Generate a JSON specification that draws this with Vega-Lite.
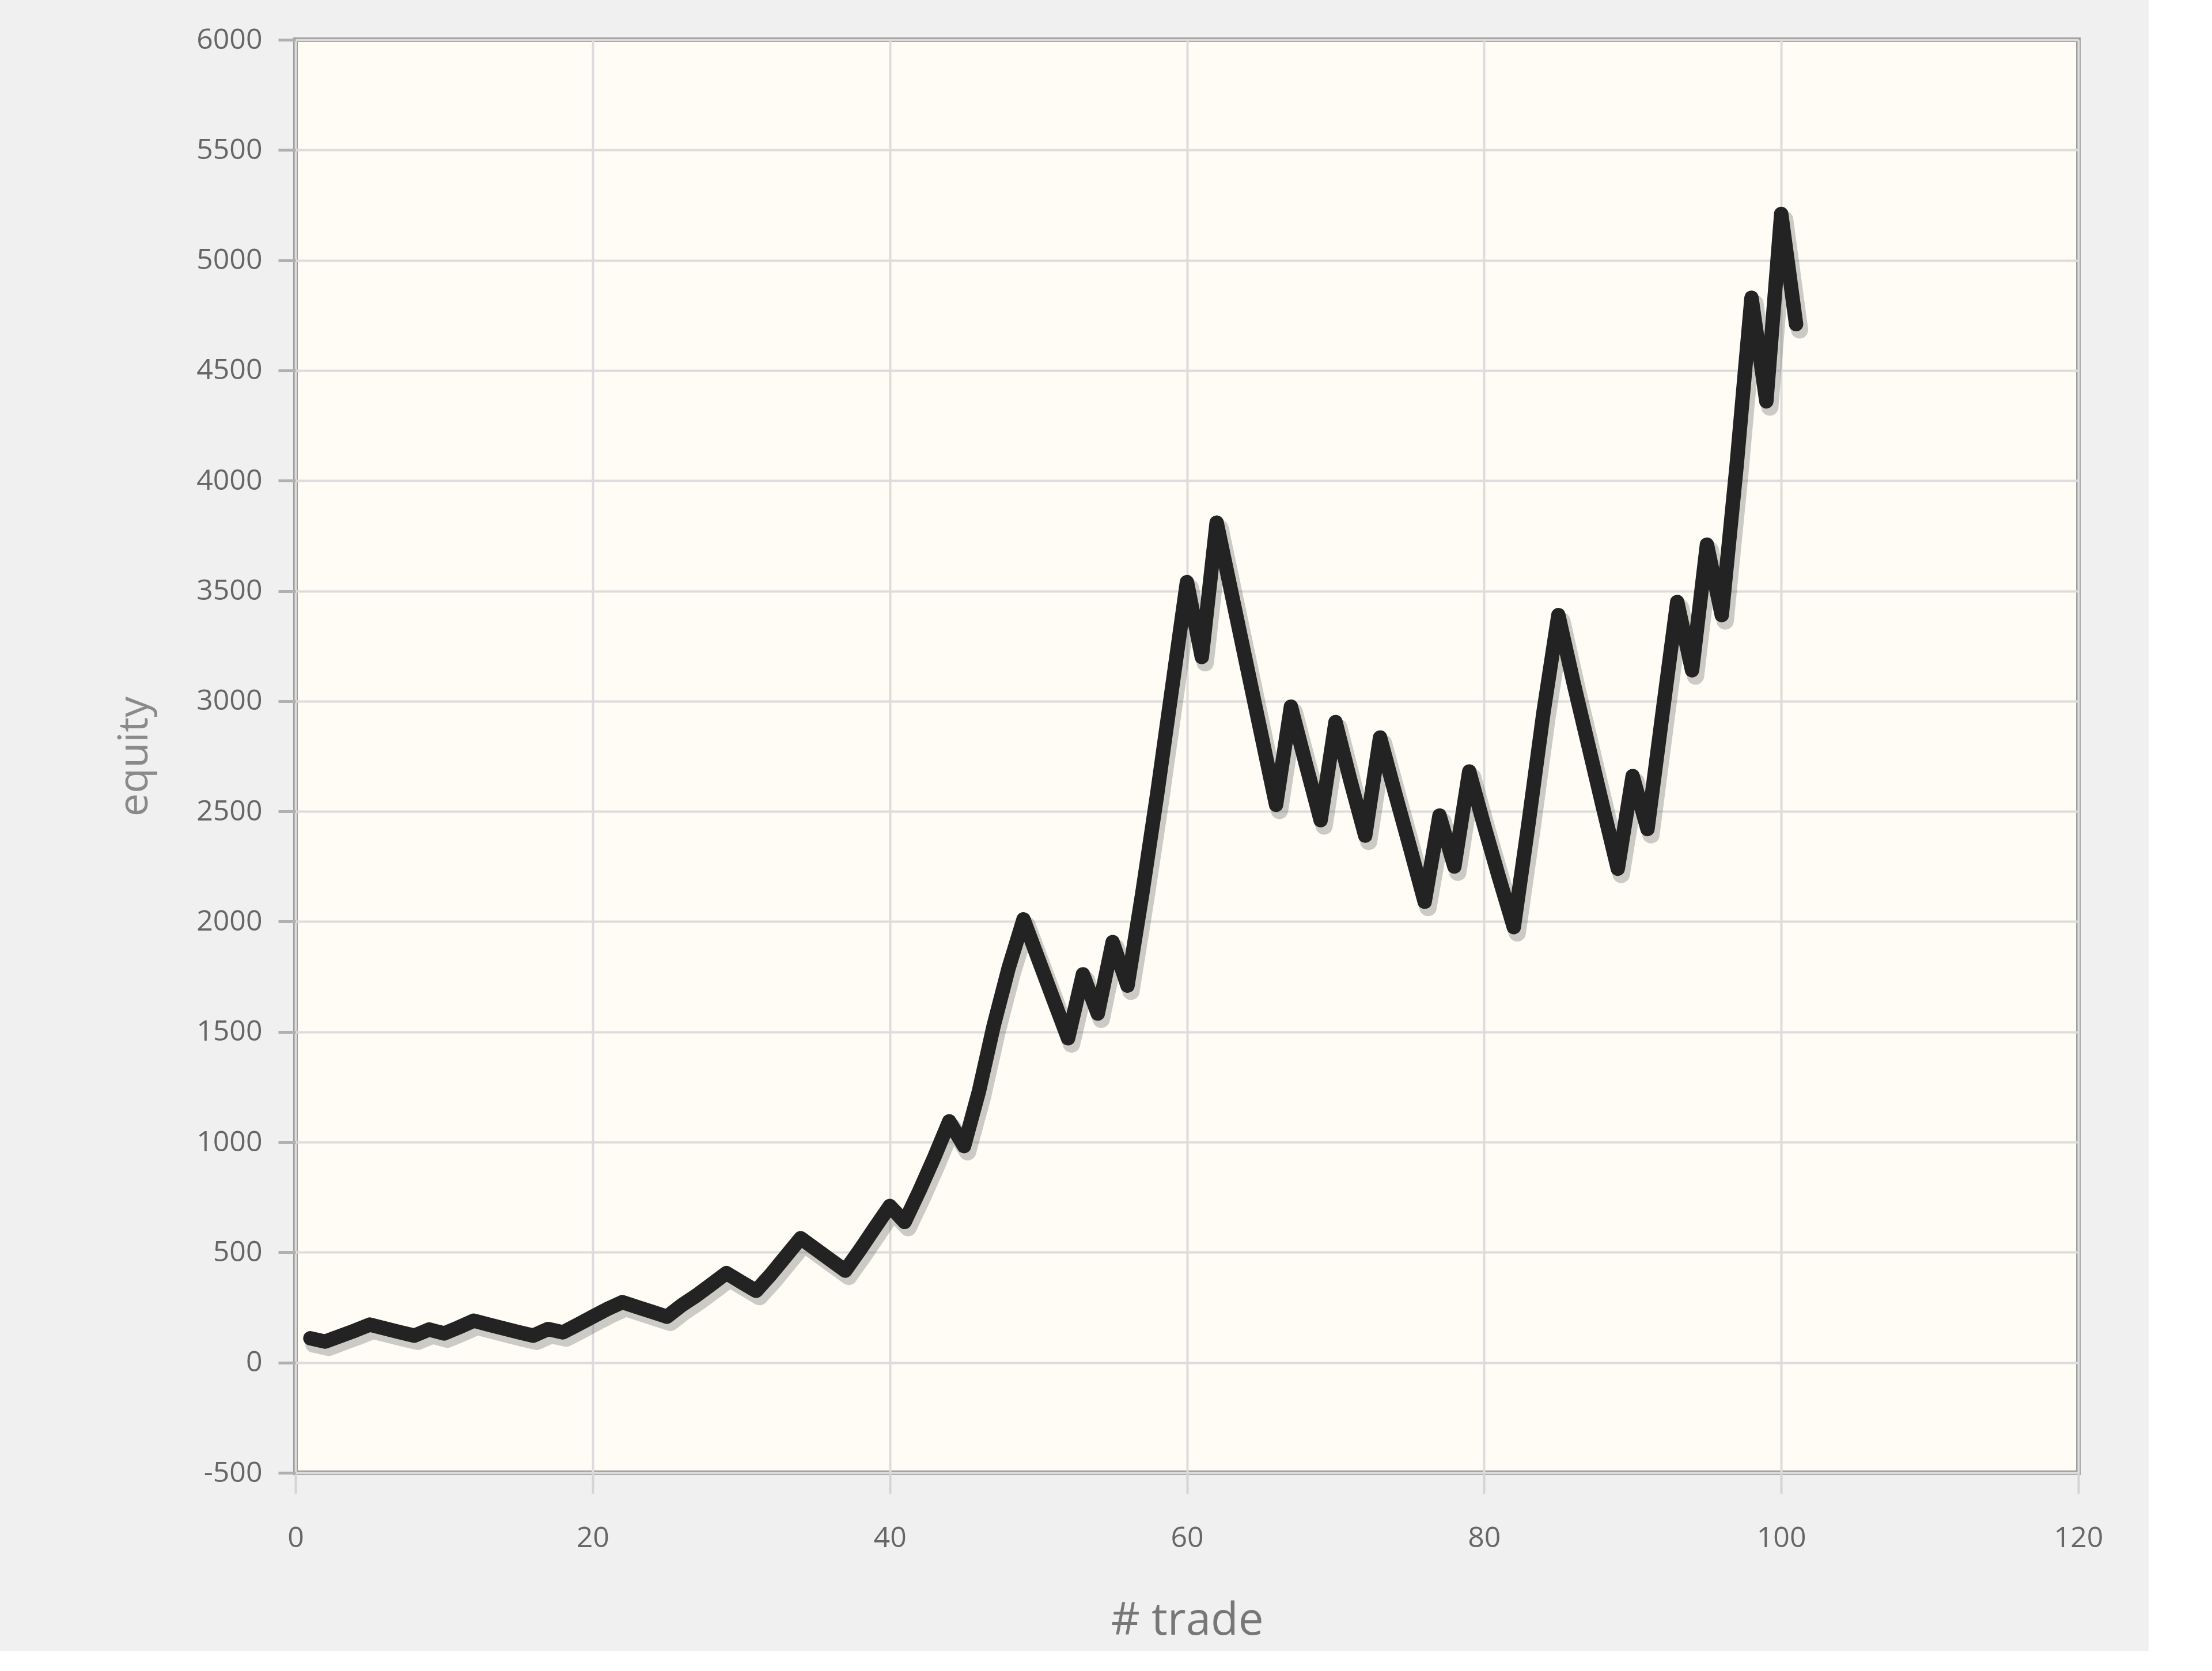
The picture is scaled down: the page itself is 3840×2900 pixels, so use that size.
{
  "$schema": "https://vega.github.io/schema/vega-lite/v6.json",
  "width": 3095,
  "height": 2487,
  "autosize": {"type": "none"},
  "padding": {"left": 513, "top": 69, "right": 122, "bottom": 309},
  "background": "#f0f0f0",
  "config": {
    "font": "Open Sans",
    "view": {"fill": "#fefcf5", "stroke": "#9c9c9c", "strokeWidth": 8}
  },
  "data": {
    "values": [
      {"trade": 1, "equity": 110}, {"trade": 2, "equity": 95}, {"trade": 3, "equity": 120},
      {"trade": 4, "equity": 145}, {"trade": 5, "equity": 172}, {"trade": 6, "equity": 155},
      {"trade": 7, "equity": 138}, {"trade": 8, "equity": 122}, {"trade": 9, "equity": 150},
      {"trade": 10, "equity": 132}, {"trade": 11, "equity": 160}, {"trade": 12, "equity": 190},
      {"trade": 13, "equity": 172}, {"trade": 14, "equity": 155}, {"trade": 15, "equity": 138},
      {"trade": 16, "equity": 122}, {"trade": 17, "equity": 152}, {"trade": 18, "equity": 137},
      {"trade": 19, "equity": 172}, {"trade": 20, "equity": 208}, {"trade": 21, "equity": 243},
      {"trade": 22, "equity": 274}, {"trade": 23, "equity": 252}, {"trade": 24, "equity": 230},
      {"trade": 25, "equity": 208}, {"trade": 26, "equity": 260}, {"trade": 27, "equity": 305},
      {"trade": 28, "equity": 355}, {"trade": 29, "equity": 406}, {"trade": 30, "equity": 365},
      {"trade": 31, "equity": 325}, {"trade": 32, "equity": 400}, {"trade": 33, "equity": 482},
      {"trade": 34, "equity": 564}, {"trade": 35, "equity": 515}, {"trade": 36, "equity": 466},
      {"trade": 37, "equity": 417}, {"trade": 38, "equity": 512}, {"trade": 39, "equity": 612},
      {"trade": 40, "equity": 710}, {"trade": 41, "equity": 638}, {"trade": 42, "equity": 780},
      {"trade": 43, "equity": 932}, {"trade": 44, "equity": 1094}, {"trade": 45, "equity": 982},
      {"trade": 46, "equity": 1230}, {"trade": 47, "equity": 1530}, {"trade": 48, "equity": 1790},
      {"trade": 49, "equity": 2010}, {"trade": 50, "equity": 1830}, {"trade": 51, "equity": 1650},
      {"trade": 52, "equity": 1471}, {"trade": 53, "equity": 1761}, {"trade": 54, "equity": 1583},
      {"trade": 55, "equity": 1907}, {"trade": 56, "equity": 1710}, {"trade": 57, "equity": 2130},
      {"trade": 58, "equity": 2580}, {"trade": 59, "equity": 3060}, {"trade": 60, "equity": 3540},
      {"trade": 61, "equity": 3200}, {"trade": 62, "equity": 3810}, {"trade": 63, "equity": 3490},
      {"trade": 64, "equity": 3170}, {"trade": 65, "equity": 2850}, {"trade": 66, "equity": 2530},
      {"trade": 67, "equity": 2975}, {"trade": 68, "equity": 2715}, {"trade": 69, "equity": 2460},
      {"trade": 70, "equity": 2905}, {"trade": 71, "equity": 2640}, {"trade": 72, "equity": 2390},
      {"trade": 73, "equity": 2835}, {"trade": 74, "equity": 2585}, {"trade": 75, "equity": 2340},
      {"trade": 76, "equity": 2090}, {"trade": 77, "equity": 2481}, {"trade": 78, "equity": 2250},
      {"trade": 79, "equity": 2681}, {"trade": 80, "equity": 2436}, {"trade": 81, "equity": 2201},
      {"trade": 82, "equity": 1975}, {"trade": 83, "equity": 2450}, {"trade": 84, "equity": 2950},
      {"trade": 85, "equity": 3390}, {"trade": 86, "equity": 3090}, {"trade": 87, "equity": 2805},
      {"trade": 88, "equity": 2520}, {"trade": 89, "equity": 2240}, {"trade": 90, "equity": 2660},
      {"trade": 91, "equity": 2420}, {"trade": 92, "equity": 2940}, {"trade": 93, "equity": 3450},
      {"trade": 94, "equity": 3140}, {"trade": 95, "equity": 3710}, {"trade": 96, "equity": 3390},
      {"trade": 97, "equity": 4070}, {"trade": 98, "equity": 4830}, {"trade": 99, "equity": 4360},
      {"trade": 100, "equity": 5210}, {"trade": 101, "equity": 4710}
    ]
  },
  "encoding": {
    "x": {
      "field": "trade",
      "type": "quantitative",
      "scale": {"domain": [0, 120], "nice": false, "zero": false},
      "axis": {
        "title": "# trade",
        "values": [0, 20, 40, 60, 80, 100, 120],
        "labelExpr": "'' + datum.value",
        "domain": false,
        "grid": true,
        "gridColor": "#dcdcdc",
        "gridWidth": 4,
        "ticks": true,
        "tickSize": 36,
        "tickColor": "#d4d4d4",
        "tickWidth": 4,
        "labelFontSize": 50,
        "labelColor": "#666666",
        "labelPadding": 52,
        "labelFlush": false,
        "labelOverlap": false,
        "titleFontSize": 78,
        "titleFontWeight": "normal",
        "titleColor": "#777777",
        "titlePadding": 80
      }
    },
    "y": {
      "field": "equity",
      "type": "quantitative",
      "scale": {"domain": [-500, 6000], "nice": false, "zero": false},
      "axis": {
        "title": "equity",
        "values": [-500, 0, 500, 1000, 1500, 2000, 2500, 3000, 3500, 4000, 4500, 5000, 5500, 6000],
        "labelExpr": "'' + datum.value",
        "domain": false,
        "grid": true,
        "gridColor": "#dcdcdc",
        "gridWidth": 4,
        "ticks": true,
        "tickSize": 30,
        "tickColor": "#b0b0b0",
        "tickWidth": 5,
        "labelFontSize": 50,
        "labelColor": "#666666",
        "labelPadding": 28,
        "labelFlush": false,
        "labelOverlap": false,
        "titleFontSize": 72,
        "titleFontWeight": "normal",
        "titleColor": "#8a8a8a",
        "titlePadding": 70
      }
    }
  },
  "layer": [
    {
      "mark": {"type": "line", "color": "#555555", "opacity": 0.3, "strokeWidth": 30, "xOffset": 6, "yOffset": 10, "strokeJoin": "round", "strokeCap": "round"}
    },
    {
      "mark": {"type": "line", "color": "#232323", "strokeWidth": 25, "strokeJoin": "round", "strokeCap": "round"}
    }
  ]
}
